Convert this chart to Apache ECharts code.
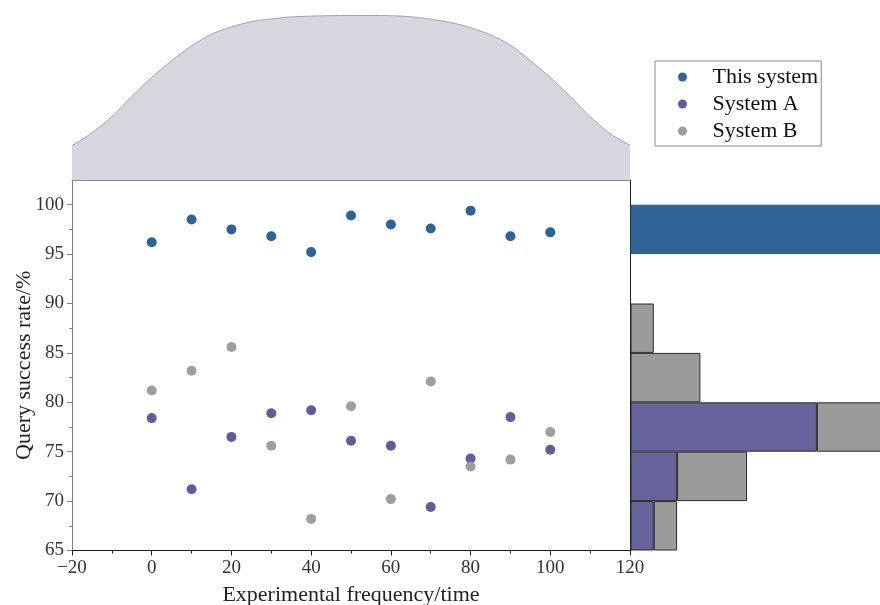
<!DOCTYPE html>
<html>
<head>
<meta charset="utf-8">
<script src="https://cdn.jsdelivr.net/npm/echarts@6/dist/echarts.min.js"></script>
<style>
  html, body { margin: 0; padding: 0; background: #fff; }
  #chart { width: 880px; height: 605px; }
</style>
</head>
<body>
<div id="chart"></div>
<script>
// Experiment runs (x) and query success rates (%) for each system
const runs = [0, 10, 20, 30, 40, 50, 60, 70, 80, 90, 100];
const thisSystem = [96.2, 98.5, 97.5, 96.8, 95.2, 98.9, 98.0, 97.6, 99.4, 96.8, 97.2];
const systemA = [78.4, 71.2, 76.5, 78.9, 79.2, 76.1, 75.6, 69.4, 74.3, 78.5, 75.2];
const systemB = [81.2, 83.2, 85.6, 75.6, 68.2, 79.6, 70.2, 82.1, 73.5, 74.2, 77.0];

// Density curve of the run distribution (top panel)
const densityX = [-20, -15, -10, -5, 0, 5, 10, 15, 20, 25, 30, 35, 45, 55, 65, 75, 80, 85, 90, 95, 100, 105, 110, 115, 120];
const densityY = [1.91, 2.62, 3.52, 4.64, 5.70, 6.63, 7.45, 8.10, 8.50, 8.80, 8.95, 9.06, 9.13, 9.14, 9.07, 8.75, 8.46, 8.06, 7.49, 6.63, 5.69, 4.64, 3.52, 2.57, 1.93];

// Histogram bins on the rate axis (right panel)
const binEdges = [65, 70, 75, 80, 85, 90, 95, 100];
const yTicks = [65, 70, 75, 80, 85, 90, 95, 100];
const yMinorTicks = [67.5, 72.5, 77.5, 82.5, 87.5, 92.5, 97.5];

const names = ['This system', 'System A', 'System B'];
const colors = ['#2f6398', '#625c9b', '#9e9e9e'];
const barColors = ['#306396', '#66649b', '#9b9b9b'];

function countBins(values) {
  const counts = [];
  for (let i = 0; i < binEdges.length - 1; i++) {
    const lo = binEdges[i], hi = binEdges[i + 1];
    const last = i === binEdges.length - 2;
    const n = values.filter(v => v >= lo && (last ? v <= hi : v < hi)).length;
    counts.push(n > 0 ? n : '-');
  }
  return counts;
}
const binLabels = binEdges.slice(0, -1).map((e, i) => e + '-' + binEdges[i + 1]);

const FONT = "'Liberation Serif', 'Times New Roman', serif";

const grids = [
  { left: 72, top: 180, width: 558, height: 370.5, outerBoundsMode: 'none' },       // scatter
  { left: 72, top: 0, width: 558, height: 180, outerBoundsMode: 'none' },           // density
  { left: 630.5, top: 204.7, width: 256.3, height: 345.8, outerBoundsMode: 'none' } // histogram
];

const series = [];
[thisSystem, systemA, systemB].forEach((vals, k) => {
  series.push({
    name: names[k],
    type: 'scatter',
    xAxisIndex: 0,
    yAxisIndex: 0,
    symbolSize: 10,
    itemStyle: { color: colors[k], opacity: 1 },
    data: runs.map((x, i) => [x, vals[i]]),
    z: 3 + k
  });
});

series.push({
  type: 'line',
  xAxisIndex: 1,
  yAxisIndex: 3,
  smooth: 0.3,
  symbol: 'none',
  lineStyle: { color: '#a2a2aa', width: 1 },
  areaStyle: { color: '#d5d6de', opacity: 1 },
  data: densityX.map((x, i) => [x, densityY[i]]),
  silent: true
});

[thisSystem, systemA, systemB].forEach((vals, k) => {
  series.push({
    name: names[k],
    type: 'bar',
    xAxisIndex: 2,
    yAxisIndex: 4,
    stack: 'hist',
    barCategoryGap: '0%',
    itemStyle: {
      color: barColors[k],
      borderColor: k === 0 ? '#2b5a88' : '#2a2a2a',
      borderWidth: 1
    },
    data: countBins(vals)
  });
});

const chart = echarts.init(document.getElementById('chart'), null, { renderer: 'canvas' });
chart.setOption({
  animation: false,
  backgroundColor: '#fff',
  grid: grids,
  legend: {
    orient: 'vertical',
    left: 655,
    top: 61,
    padding: [5, 3, 4, 23],
    itemGap: 5,
    itemWidth: 50,
    itemHeight: 9,
    borderColor: '#8a8a8a',
    borderWidth: 1,
    backgroundColor: '#fff',
    textStyle: { fontFamily: FONT, fontSize: 22, color: '#111', lineHeight: 22 },
    data: names.map(n => ({ name: n, icon: 'circle' }))
  },
  xAxis: [
    {
      gridIndex: 0, type: 'value', min: -20, max: 120, interval: 20,
      name: 'Experimental frequency/time', nameLocation: 'middle', nameGap: 34,
      nameMoveOverlap: false,
      nameTextStyle: { fontFamily: FONT, fontSize: 22, color: '#222' },
      axisLine: { onZero: false, lineStyle: { color: '#1a1a1a', width: 1 } },
      axisTick: { inside: false, length: 5, lineStyle: { color: '#1a1a1a' } },
      minorTick: { show: true, splitNumber: 2, length: 3, lineStyle: { color: '#1a1a1a' } },
      axisLabel: {
        fontFamily: FONT, fontSize: 19, color: '#333', margin: 8,
        formatter: v => String(v).replace('-', '\u2212')
      },
      splitLine: { show: false }
    },
    {
      gridIndex: 1, type: 'value', min: -20, max: 120,
      axisLine: { onZero: false, lineStyle: { color: '#8a8a8a', width: 1 } },
      axisTick: { show: false }, axisLabel: { show: false }, splitLine: { show: false }
    },
    { gridIndex: 2, type: 'value', min: 0, max: 11, show: false }
  ],
  yAxis: [
    {
      gridIndex: 0, type: 'value', min: 65, max: 102.5,
      name: 'Query success rate/%', nameLocation: 'middle', nameGap: 37,
      nameMoveOverlap: false,
      nameTextStyle: { fontFamily: FONT, fontSize: 22, color: '#222' },
      axisLine: { show: true, onZero: false, lineStyle: { color: '#808080', width: 1 } },
      axisTick: { show: true, length: 5, customValues: yTicks, lineStyle: { color: '#808080' } },
      axisLabel: { fontFamily: FONT, fontSize: 19, color: '#333', margin: 8, customValues: yTicks },
      splitLine: { show: false }
    },
    {
      gridIndex: 0, type: 'value', min: 65, max: 102.5, position: 'left',
      axisLine: { show: false, onZero: false },
      axisTick: { show: true, length: 3, customValues: yMinorTicks, lineStyle: { color: '#808080' } },
      axisLabel: { show: false, customValues: yMinorTicks },
      splitLine: { show: false }
    },
    {
      gridIndex: 0, type: 'value', min: 65, max: 102.5, position: 'right',
      axisLine: { show: true, onZero: false, lineStyle: { color: '#1a1a1a', width: 1 } },
      axisTick: { show: false }, axisLabel: { show: false }, splitLine: { show: false }
    },
    { gridIndex: 1, type: 'value', min: 0, max: 10, show: false },
    { gridIndex: 2, type: 'category', data: binLabels, show: false, boundaryGap: true }
  ],
  series: series
});
</script>
</body>
</html>
